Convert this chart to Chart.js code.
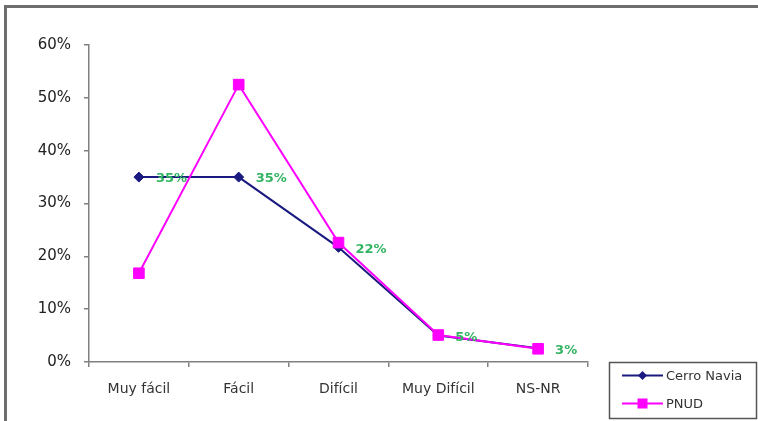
<!DOCTYPE html>
<html>
<head>
<meta charset="utf-8">
<script src="https://cdn.jsdelivr.net/npm/chart.js@4/dist/chart.umd.min.js"></script>
<style>
  html, body { margin: 0; padding: 0; background: #fff; overflow: hidden; width: 758px; height: 421px; }
  canvas { display: block; }
</style>
</head>
<body>
<canvas id="c" width="758" height="421"></canvas>
<script>
const categories = ['Muy fácil', 'Fácil', 'Difícil', 'Muy Difícil', 'NS-NR'];
const cerroNavia = [35, 35, 21.7, 5, 2.6];
const pnud = [16.8, 52.5, 22.6, 5.1, 2.5];
const cerroLabels = ['35%', '35%', '22%', '5%', '3%'];
const yTicks = [0, 10, 20, 30, 40, 50, 60];

const FONT = '"DejaVu Sans", "Liberation Sans", Arial, sans-serif';

const frame = {
  id: 'frame',
  beforeDraw(chart) {
    const ctx = chart.ctx;
    ctx.save();
    ctx.fillStyle = '#fff';
    ctx.fillRect(0, 0, chart.width, chart.height);
    ctx.fillStyle = '#6e6e6e';
    ctx.fillRect(4, 5, 3, chart.height - 5);
    ctx.fillRect(4, 5, chart.width - 4, 3);
    ctx.restore();
  }
};

const valueLabels = {
  id: 'valueLabels',
  afterDatasetsDraw(chart) {
    const meta = chart.getDatasetMeta(0);
    const ctx = chart.ctx;
    ctx.save();
    ctx.font = 'bold 13px ' + FONT;
    ctx.fillStyle = '#33b463';
    ctx.textAlign = 'left';
    ctx.textBaseline = 'middle';
    meta.data.forEach((pt, i) => {
      ctx.fillText(cerroLabels[i], pt.x + 17, pt.y + 2);
    });
    ctx.restore();
  }
};

const boxLegend = {
  id: 'boxLegend',
  afterDraw(chart) {
    const ctx = chart.ctx;
    ctx.save();
    ctx.strokeStyle = '#555';
    ctx.lineWidth = 1.5;
    ctx.strokeRect(609.5, 362.5, 147, 56);
    const rows = [375.5, 403.5];
    chart.data.datasets.forEach((ds, i) => {
      const y = rows[i];
      ctx.strokeStyle = ds.borderColor;
      ctx.lineWidth = 2;
      ctx.beginPath();
      ctx.moveTo(622, y);
      ctx.lineTo(663, y);
      ctx.stroke();
      ctx.fillStyle = ds.pointBackgroundColor;
      ctx.beginPath();
      if (ds.pointStyle === 'rectRot') {
        ctx.moveTo(642.5, y - 4.5);
        ctx.lineTo(647, y);
        ctx.lineTo(642.5, y + 4.5);
        ctx.lineTo(638, y);
        ctx.closePath();
      } else {
        ctx.rect(637.5, y - 5, 10, 10);
      }
      ctx.fill();
      ctx.fillStyle = '#333';
      ctx.font = '13px ' + FONT;
      ctx.textAlign = 'left';
      ctx.textBaseline = 'middle';
      ctx.fillText(ds.label, 666, y + 1);
    });
    ctx.restore();
  }
};

new Chart(document.getElementById('c'), {
  type: 'line',
  data: {
    labels: categories,
    datasets: [
      {
        label: 'Cerro Navia',
        data: cerroNavia,
        borderColor: '#1a1a80',
        backgroundColor: '#1a1a80',
        pointBackgroundColor: '#1a1a80',
        pointBorderColor: '#1a1a80',
        pointStyle: 'rectRot',
        pointRadius: 5,
        pointBorderWidth: 1,
        borderWidth: 2,
        tension: 0,
        order: 1
      },
      {
        label: 'PNUD',
        data: pnud,
        borderColor: '#ff00ff',
        backgroundColor: '#ff00ff',
        pointBackgroundColor: '#ff00ff',
        pointBorderColor: '#ff00ff',
        pointStyle: 'rect',
        pointRadius: 7.5,
        pointBorderWidth: 1,
        borderWidth: 2,
        tension: 0,
        order: 0
      }
    ]
  },
  options: {
    responsive: false,
    animation: false,
    devicePixelRatio: 1,
    layout: { padding: { left: 29, right: 170, top: 45, bottom: 19 } },
    plugins: { legend: { display: false }, tooltip: { enabled: false } },
    scales: {
      x: {
        offset: true,
        grid: { display: true, drawOnChartArea: false, drawTicks: true, tickLength: 5, offset: true, color: '#808080', lineWidth: 1.5 },
        border: { display: true, color: '#808080', width: 1.5 },
        ticks: { color: '#333', font: { family: FONT, size: 14 }, padding: 14, maxRotation: 0, autoSkip: false },
        afterFit(s) { s.height = 40; }
      },
      y: {
        min: 0, max: 60,
        afterBuildTicks(s) { s.ticks = yTicks.map(v => ({ value: v })); },
        grid: { display: true, drawOnChartArea: false, drawTicks: true, tickLength: 5, color: '#808080', lineWidth: 1.5 },
        border: { display: true, color: '#808080', width: 1.5 },
        ticks: { color: '#222', font: { family: FONT, size: 15 }, padding: 13, callback: v => v + '%' },
        afterFit(s) { s.width = 60; }
      }
    }
  },
  plugins: [frame, valueLabels, boxLegend]
});
</script>
</body>
</html>
